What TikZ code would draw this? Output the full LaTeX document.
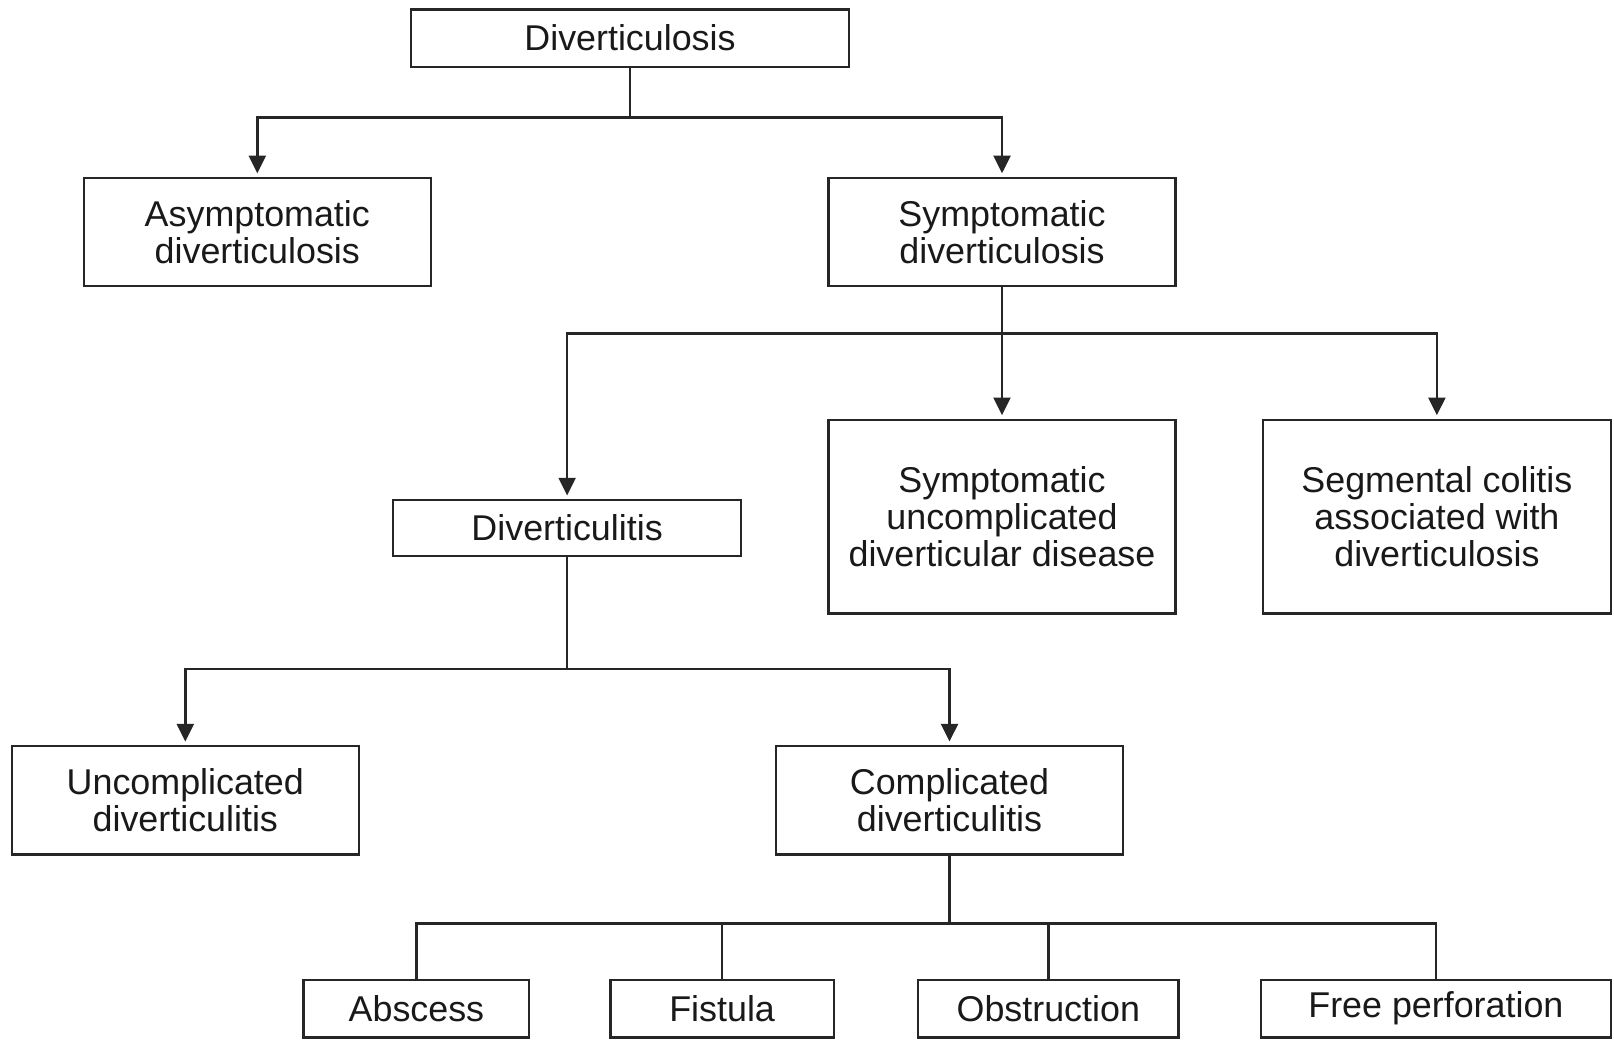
\documentclass[tikz,border=0pt]{standalone}
\usepackage{fontspec}
\setmainfont{Liberation Sans}
\usetikzlibrary{arrows.meta}
\tikzset{
	box/.style={draw=black!85,line width=0.7pt,inner sep=0pt,align=center,text=black!90,font=\fontsize{10.2}{10.4}\selectfont},
	link/.style={draw=black!85,line width=0.7pt},
	arr/.style={link,-{Triangle[width=4.8pt,length=5pt]},shorten >=1pt}
}
\begin{document}
\begin{tikzpicture}
	\useasboundingbox (0,0) rectangle (16.14,-10.45);

	% Top level
	\node[box,minimum width=4.385cm,minimum height=0.576cm] (root) at (6.30,-0.381) {Diverticulosis};

	% Second level
	\node[box,minimum width=3.469cm,minimum height=1.081cm] (asym) at (2.573,-2.321) {Asymptomatic\\diverticulosis};
	\node[box,minimum width=3.469cm,minimum height=1.081cm] (sympt) at (10.020,-2.321) {Symptomatic\\diverticulosis};

	% Third level
	\node[box,minimum width=3.479cm,minimum height=0.556cm] (itis) at (5.671,-5.280) {Diverticulitis};
	\node[box,minimum width=3.469cm,minimum height=1.935cm] (sudd) at (10.020,-5.167) {Symptomatic\\uncomplicated\\diverticular disease};
	\node[box,minimum width=3.479cm,minimum height=1.935cm] (seg) at (14.369,-5.167) {Segmental colitis\\associated with\\diverticulosis};

	% Fourth level
	\node[box,minimum width=3.469cm,minimum height=1.081cm] (uncomp) at (1.853,-8.003) {Uncomplicated\\diverticulitis};
	\node[box,minimum width=3.469cm,minimum height=1.081cm] (comp) at (9.495,-8.003) {Complicated\\diverticulitis};

	% Complications
	\node[box,minimum width=2.254cm,minimum height=0.576cm] (absc) at (4.164,-10.087) {Abscess};
	\node[box,minimum width=2.234cm,minimum height=0.576cm] (fist) at (7.221,-10.087) {Fistula};
	\node[box,minimum width=2.604cm,minimum height=0.576cm] (obst) at (10.483,-10.087) {Obstruction};
	\node[box,minimum width=3.500cm,minimum height=0.576cm] (perf) at (14.359,-10.087) {Free perforation};

	% Junctions
	\coordinate (j1) at (6.30,-1.173);
	\coordinate (j2) at (10.020,-3.335);
	\coordinate (j3) at (5.671,-6.690);
	\coordinate (j4) at (9.495,-9.233);

	% Connectors
	\draw[link] (root.south) -- (j1);
	\draw[arr] (j1) -| (asym.north);
	\draw[arr] (j1) -| (sympt.north);

	\draw[link] (sympt.south) -- (j2);
	\draw[arr] (j2) -| (itis.north);
	\draw[arr] (j2) -- (sudd.north);
	\draw[arr] (j2) -| (seg.north);

	\draw[link] (itis.south) -- (j3);
	\draw[arr] (j3) -| (uncomp.north);
	\draw[arr] (j3) -| (comp.north);

	\draw[link] (comp.south) -- (j4);
	\draw[link] (j4) -| (absc.north);
	\draw[link] (j4) -| (fist.north);
	\draw[link] (j4) -| (obst.north);
	\draw[link] (j4) -| (perf.north);

\end{tikzpicture}
\end{document}
